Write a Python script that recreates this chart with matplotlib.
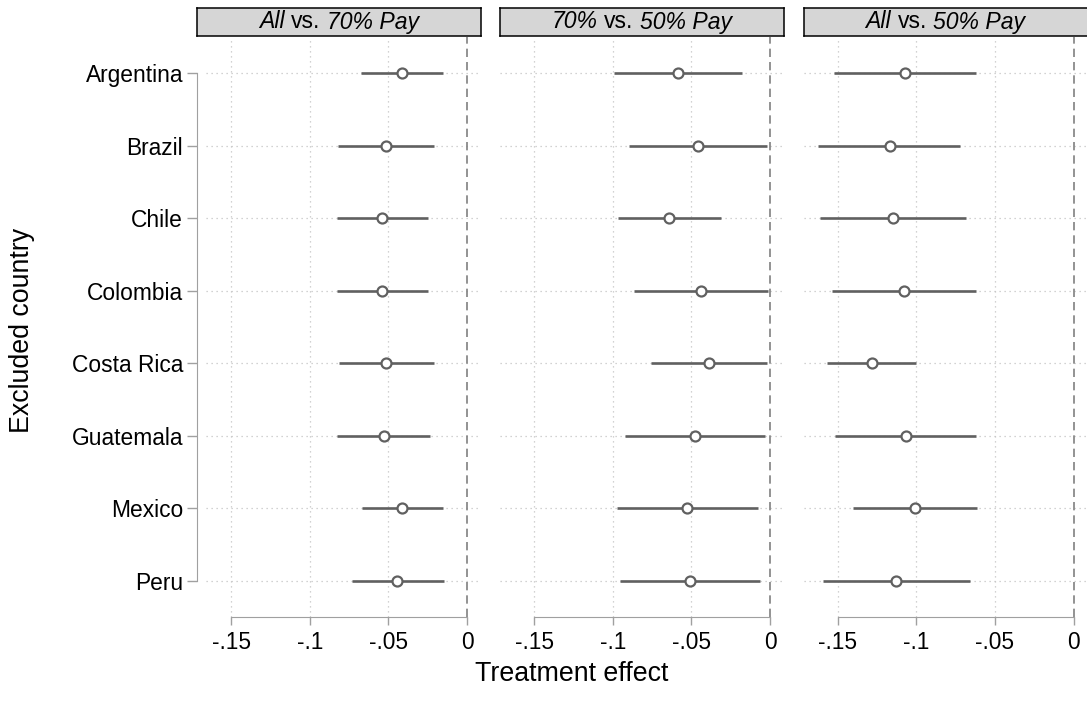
import matplotlib
matplotlib.use("Agg")
import matplotlib.pyplot as plt
import numpy as np
from matplotlib.offsetbox import TextArea, HPacker, AnchoredOffsetbox

plt.rcParams['font.family'] = ['Liberation Sans', 'DejaVu Sans']

countries = ["Argentina", "Brazil", "Chile", "Colombia", "Costa Rica",
             "Guatemala", "Mexico", "Peru"]

# each title: (left italic part, middle upright part, right italic part)
panel_titles = [("All", "vs.", "70% Pay"),
                ("70%", "vs.", "50% Pay"),
                ("All", "vs.", "50% Pay")]

# All vs 70% Pay
est1 = [-0.0413, -0.0515, -0.0540, -0.0540, -0.0513, -0.0529, -0.0411, -0.0443]
lo1 = [-0.0675, -0.0818, -0.0827, -0.0827, -0.0816, -0.0825, -0.0668, -0.0734]
hi1 = [-0.0152, -0.0213, -0.0251, -0.0247, -0.0211, -0.0234, -0.0152, -0.0149]

# 70% vs 50% Pay
est2 = [-0.0586, -0.0461, -0.0643, -0.0440, -0.0391, -0.0478, -0.0529, -0.0507]
lo2 = [-0.0994, -0.0897, -0.0966, -0.0865, -0.0759, -0.0919, -0.0973, -0.0956]
hi2 = [-0.0176, -0.0021, -0.0313, -0.0015, -0.0023, -0.0034, -0.0079, -0.0062]

# All vs 50% Pay
est3 = [-0.1072, -0.1169, -0.1148, -0.1076, -0.1283, -0.1068, -0.1008, -0.1127]
lo3 = [-0.1523, -0.1623, -0.1610, -0.1534, -0.1566, -0.1519, -0.1403, -0.1593]
hi3 = [-0.0618, -0.0720, -0.0682, -0.0618, -0.1000, -0.0618, -0.0616, -0.0661]

xticks = [-0.15, -0.10, -0.05, 0.0]
xticklabels = ["-.15", "-.1", "-.05", "0"]

panels = [(est1, lo1, hi1), (est2, lo2, hi2), (est3, lo3, hi3)]

W, H = 1087, 702
fig = plt.figure(figsize=(W / 100, H / 100), dpi=100)

lefts = [197, 500, 803.5]
pw = 284
top_px, bot_px = 37, 617
strip_top, strip_bot = 8, 36

line_col = '#606060'
grid_col = '#c4c4c4'
axis_col = '#a0a0a0'
tick_fs = 16.4
title_fs = 16.6
label_fs = 19.3

ypos = np.arange(len(countries))

for i, (est, lo, hi) in enumerate(panels):
    l = lefts[i]
    ax = fig.add_axes([l / W, 1 - bot_px / H, pw / W, (bot_px - top_px) / H])
    ax.set_xlim(-0.1716, 0.0088)
    ax.set_ylim(len(countries) - 0.5, -0.5)
    for y in ypos:
        ax.axhline(y, xmin=0.03 if i == 0 else 0, color=grid_col, lw=0.9,
                   ls=(0, (1, 3)), zorder=0)
    for x in xticks[:-1]:
        ax.axvline(x, color=grid_col, lw=0.9, ls=(0, (1, 3)), zorder=0)
    ax.axvline(0, color='#808080', lw=1.2, ls=(0, (5, 3)), zorder=1)
    ax.hlines(ypos, lo, hi, color=line_col, lw=1.9, zorder=2)
    ax.plot(est, ypos, 'o', ms=7.2, mfc='white', mec=line_col, mew=1.6,
            zorder=3, ls='none')
    for s in ['top', 'right']:
        ax.spines[s].set_visible(False)
    ax.spines['bottom'].set_color(axis_col)
    ax.spines['bottom'].set_bounds(-0.15, 0)
    ax.set_xticks(xticks)
    ax.set_xticklabels(xticklabels, fontsize=tick_fs)
    ax.tick_params(axis='x', colors=axis_col, labelcolor='black',
                   length=6, width=1, pad=4)
    if i == 0:
        ax.spines['left'].set_color(axis_col)
        ax.spines['left'].set_bounds(0, len(countries) - 1)
        ax.set_yticks(ypos)
        ax.set_yticklabels(countries, fontsize=tick_fs)
        ax.tick_params(axis='y', colors=axis_col, labelcolor='black',
                       length=7, width=1, pad=3)
    else:
        ax.spines['left'].set_visible(False)
        ax.set_yticks([])
    # strip
    sax = fig.add_axes([l / W, 1 - strip_bot / H, pw / W,
                        (strip_bot - strip_top) / H])
    sax.set_facecolor('#d6d6d6')
    sax.set_xticks([])
    sax.set_yticks([])
    for s in sax.spines.values():
        s.set_color('black')
        s.set_linewidth(1.1)
    a, b, c = panel_titles[i]
    parts = [TextArea(a, textprops=dict(fontsize=title_fs, style='italic')),
             TextArea(b, textprops=dict(fontsize=title_fs)),
             TextArea(c, textprops=dict(fontsize=title_fs, style='italic'))]
    box = HPacker(children=parts, align='baseline', pad=0,
                  sep=0.278 * title_fs)
    anch = AnchoredOffsetbox(loc='center', child=box, pad=0, frameon=False,
                             bbox_to_anchor=(0.5, 0.5),
                             bbox_transform=sax.transAxes, borderpad=0)
    sax.add_artist(anch)

fig.text(572 / W, 1 - 674 / H, "Treatment effect", ha='center', va='center',
         fontsize=label_fs)
fig.text(22 / W, 1 - 330 / H, "Excluded country", ha='center', va='center',
         rotation=90, fontsize=label_fs)

fig.savefig("out.png", dpi=100)
